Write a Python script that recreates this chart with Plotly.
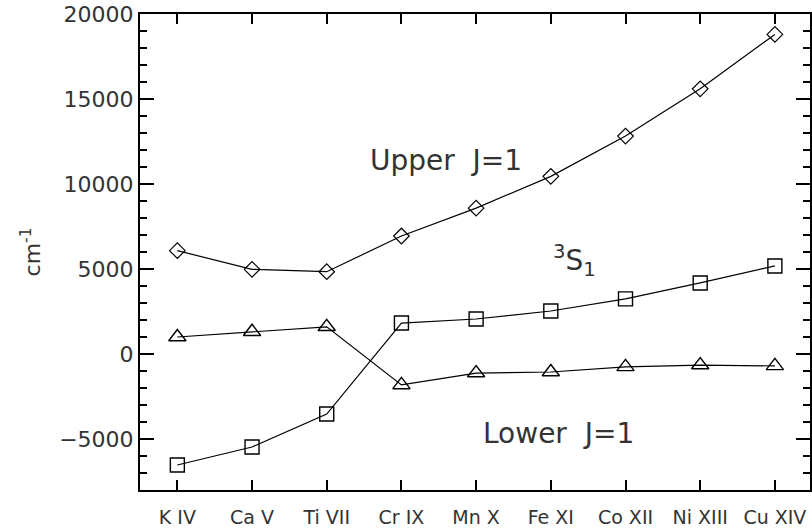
import plotly.graph_objects as go

ions = ["K IV", "Ca V", "Ti VII", "Cr IX", "Mn X", "Fe XI", "Co XII", "Ni XIII", "Cu XIV"]
upper_j1 = [6080, 4980, 4840, 6940, 8580, 10450, 12820, 15600, 18800]
s3_1 = [-6530, -5470, -3530, 1820, 2060, 2530, 3240, 4180, 5180]
lower_j1 = [1000, 1310, 1600, -1820, -1120, -1060, -760, -650, -700]

x = list(range(len(ions)))
FONT = "DejaVu Sans, Liberation Sans, sans-serif"
TXT = "#333333"

fig = go.Figure()
line = dict(color="black", width=1.2)
fig.add_trace(go.Scatter(x=x, y=upper_j1, mode="lines+markers", line=line,
                         marker=dict(symbol="diamond-open", size=12, color="black", line=dict(width=1.2))))
fig.add_trace(go.Scatter(x=x, y=s3_1, mode="lines+markers", line=line,
                         marker=dict(symbol="square-open", size=14, color="black", line=dict(width=1.4))))
fig.add_trace(go.Scatter(x=x, y=lower_j1, mode="lines+markers", line=line,
                         marker=dict(symbol="triangle-up-open", size=15, color="black", line=dict(width=1.4))))

fig.update_layout(
    width=812, height=528,
    margin=dict(l=140, r=2, t=14, b=38, autoexpand=False),
    paper_bgcolor="white", plot_bgcolor="white",
    showlegend=False,
    font=dict(family=FONT, color=TXT, size=22),
    xaxis=dict(range=[-0.5, 8.47], tickmode="array", tickvals=x, ticktext=ions,
               ticks="inside", ticklen=10, tickwidth=1.5, tickcolor="black",
               showline=True, linecolor="black", linewidth=2, mirror="ticks",
               showgrid=False, zeroline=False, automargin=False,
               ticklabeloverflow="allow", ticklabelstandoff=9,
               tickfont=dict(size=19, color=TXT)),
    yaxis=dict(range=[-8000, 20000], tickmode="linear", tick0=0, dtick=5000,
               ticks="inside", ticklen=14, tickwidth=1.5, tickcolor="black",
               minor=dict(dtick=1000, ticks="inside", ticklen=7, tickwidth=1.5, tickcolor="black"),
               showline=True, linecolor="black", linewidth=2, mirror="ticks",
               showgrid=False, zeroline=False, tickformat="d", automargin=False,
               ticklabeloverflow="allow",
               tickfont=dict(size=22, color=TXT),
               title=dict(text="cm<sup>-1</sup>", font=dict(size=22, color=TXT), standoff=12)),
)

fig.add_annotation(x=3.6, y=11400, xref="x", yref="y", text="Upper  J=1", showarrow=False,
                   xanchor="center", yanchor="middle", font=dict(size=28, color=TXT))
fig.add_annotation(x=5.32, y=5500, xref="x", yref="y", text="<sup>3</sup>S<sub>1</sub>", showarrow=False,
                   xanchor="center", yanchor="middle", font=dict(size=28, color=TXT))
fig.add_annotation(x=5.1, y=-4650, xref="x", yref="y", text="Lower  J=1", showarrow=False,
                   xanchor="center", yanchor="middle", font=dict(size=28, color=TXT))

# remove the default 8px page margin so the 812x528 figure fills the window exactly
fig.write_html("out.html", config={"displayModeBar": False},
               post_script="document.body.style.margin='0';")
